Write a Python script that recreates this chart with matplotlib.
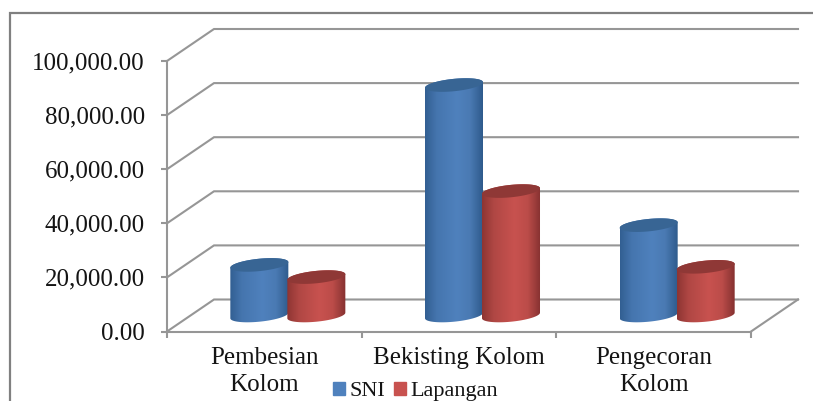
import matplotlib
matplotlib.use('Agg')
import matplotlib.pyplot as plt
from matplotlib.lines import Line2D
from matplotlib.patches import Polygon, Rectangle
import numpy as np

categories = ["Pembesian\nKolom", "Bekisting Kolom", "Pengecoran\nKolom"]
sni = [18700, 85200, 33400]
lapangan = [14200, 46000, 18000]
y_ticks = [0, 20000, 40000, 60000, 80000, 100000]

# --- axis scale: pixels per unit, the axes fill the whole figure ---
W, H = 813, 401
X0, Y0 = 167, 331.5
PX_CAT = 194.67
PX_VAL = 270.5 / 100000
DEPTH_X = 47 / PX_CAT
DEPTH_Y = 32 / PX_VAL

LINE = '#969696'
BLUE = ['#325f92', '#4575ae', '#4f81bd', '#4a7ab3', '#2f5b8d']
BLUE_TOP = '#386594'
RED = ['#8e3533', '#b04744', '#c8524f', '#bb4c49', '#853130']
RED_TOP = '#8f3836'

plt.rcParams['font.family'] = ['Liberation Serif', 'DejaVu Serif']

fig = plt.figure(figsize=(W / 100, H / 100), dpi=100)
ax = fig.add_axes([0, 0, 1, 1])
ax.patch.set_alpha(0)


def hex_rgb(c):
    return [int(c[i:i + 2], 16) / 255 for i in (1, 3, 5)]


def shade(stops, n=120):
    # horizontal gradient across the cylinder
    rgb = np.array([hex_rgb(c) for c in stops])
    pos = [0, 0.2, 0.55, 0.78, 1]
    t = np.linspace(0, 1, n)
    return np.stack([np.interp(t, pos, rgb[:, k]) for k in range(3)], axis=1)[None, :, :]


def ellipse(cx, cy, t):
    a = 29 / PX_CAT
    b = 6.2 / PX_VAL
    tilt = 2.8 / PX_VAL
    return cx + a * np.cos(t), cy + b * np.sin(t) + tilt * np.cos(t)


def cylinder(cx, value, stops, top_color):
    base = DEPTH_Y / 2
    bx, by = ellipse(cx, base, np.linspace(np.pi, 2 * np.pi, 60))
    tx, ty = ellipse(cx, base + value, np.linspace(0, np.pi, 60))
    body = Polygon(np.column_stack([np.r_[bx, tx], np.r_[by, ty]]), closed=True,
                   transform=ax.transData, facecolor='none', edgecolor='none')
    ax.add_patch(body)
    a = 29 / PX_CAT
    im = ax.imshow(shade(stops), extent=[cx - a, cx + a, 0, base + value + DEPTH_Y],
                   aspect='auto', zorder=3, interpolation='bilinear')
    im.set_clip_path(body)
    ex, ey = ellipse(cx, base + value, np.linspace(0, 2 * np.pi, 120))
    ax.fill(ex, ey, color=top_color, lw=0, zorder=3.5)


# --- back wall, gridlines and floor ---
for v in y_ticks:
    ax.plot([0, DEPTH_X, 3 + DEPTH_X], [v, v + DEPTH_Y, v + DEPTH_Y], color=LINE, lw=1.5, zorder=1,
            solid_joinstyle='miter')
ax.plot([3, 3 + DEPTH_X], [0, DEPTH_Y], color=LINE, lw=1.5, zorder=1)

# --- cylinders, the mid-depth of the floor is their base ---
bar_w = 57 / PX_CAT
for i in range(len(categories)):
    centre = i + 0.5 + DEPTH_X / 2
    cylinder(centre - bar_w / 2, sni[i], BLUE, BLUE_TOP)
    cylinder(centre + bar_w / 2, lapangan[i], RED, RED_TOP)

# --- limits ---
ax.set_xlim(-X0 / PX_CAT, (W - X0) / PX_CAT)
ax.set_ylim(-(H - Y0) / PX_VAL, Y0 / PX_VAL)

# --- axes ---
for side in ['top', 'right']:
    ax.spines[side].set_visible(False)
ax.spines['left'].set_position(('data', 0))
ax.spines['bottom'].set_position(('data', 0))
ax.spines['left'].set_bounds(0, 100000)
ax.spines['bottom'].set_bounds(0, 3)
for side in ['left', 'bottom']:
    ax.spines[side].set_color(LINE)
    ax.spines[side].set_linewidth(1.5)
    ax.spines[side].set_zorder(2)

ax.set_yticks(y_ticks)
ax.set_yticklabels([f"{v:,.2f}" for v in y_ticks])
ax.tick_params(axis='y', length=4.5, width=1.5, color=LINE, pad=11.5, labelsize=18, labelcolor='#141414')
ax.set_xticks([0, 1, 2, 3])
ax.set_xticklabels([])
ax.set_xticks([0.5, 1.5, 2.5], minor=True)
ax.set_xticklabels(categories, minor=True, linespacing=1.28)
ax.tick_params(axis='x', which='major', length=4.5, width=1.5, color=LINE)
ax.tick_params(axis='x', which='minor', length=0, pad=11.5, labelsize=18, labelcolor='#141414')

# --- legend ---
handles = [Rectangle((0, 0), 1, 1, color=BLUE[2]), Rectangle((0, 0), 1, 1, color=RED[2])]
ax.legend(handles, ['SNI', 'Lapangan'], ncols=2, frameon=False, fontsize=16, loc='lower left',
          bbox_to_anchor=(333 / W, 0.0), borderpad=0, borderaxespad=0, handlelength=0.54,
          handleheight=0.53, handletextpad=0.22, columnspacing=0.36, labelcolor='#141414')

# --- outer frame, open on the right and at the bottom ---
fig.add_artist(Line2D([10 / W, 10 / W, 1], [0, 1 - 12.5 / H, 1 - 12.5 / H], color='#808080', lw=1.6,
                      solid_joinstyle='miter'))

plt.savefig('out.png', dpi=100)
plt.close()
